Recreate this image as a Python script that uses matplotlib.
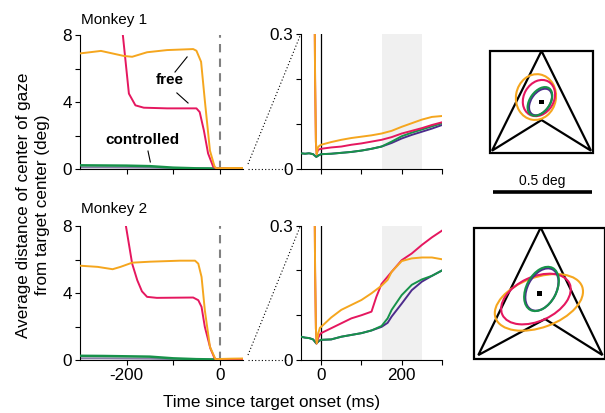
import matplotlib
matplotlib.use('Agg')
import matplotlib.pyplot as plt
from matplotlib.patches import Ellipse, Rectangle, Polygon
from matplotlib.lines import Line2D

plt.rcParams['font.family'] = ['Liberation Sans', 'DejaVu Sans']

# ---------------- colours ----------------
C_FREE_A = '#F5A61E'   # orange
C_FREE_B = '#E5175F'   # magenta
C_CTRL_A = '#17924A'   # green
C_CTRL_B = '#4D2C8C'   # purple

# ---------------- Monkey 1, long time scale (deg) ----------------
m1_orange_t = [-300, -255, -206, -188, -156, -113, -57, -50, -40, -32, -21, -11, -7, 0, 25, 50]
m1_orange_v = [6.9, 7.05, 6.75, 6.7, 6.97, 7.1, 7.16, 7.06, 6.4, 4.1, 1.1, 0.14, 0.04, 0.05, 0.06, 0.06]
m1_magenta_t = [-215, -208, -195, -181, -163, -113, -50, -43, -34, -25, -14, -7, 0, 25, 50]
m1_magenta_v = [9.5, 8.0, 4.5, 3.8, 3.66, 3.62, 3.62, 3.4, 2.3, 0.93, 0.14, 0.02, 0.04, 0.05, 0.05]
ctrl_long_t = [-300, -250, -200, -150, -100, -50, 0, 50]
m1_green_v = [0.22, 0.21, 0.2, 0.17, 0.08, 0.04, 0.03, 0.03]
m1_purple_v = [0.1, 0.1, 0.09, 0.08, 0.05, 0.03, 0.02, 0.02]

# ---------------- Monkey 2, long time scale (deg) ----------------
m2_orange_t = [-300, -262, -230, -213, -188, -149, -85, -53, -46, -39, -32, -21, -9, 0, 25, 50]
m2_orange_v = [5.63, 5.56, 5.42, 5.56, 5.81, 5.87, 5.93, 5.93, 5.75, 4.96, 2.98, 0.79, 0.04, 0.06, 0.08, 0.09]
m2_magenta_t = [-210, -202, -188, -177, -167, -156, -135, -57, -46, -39, -32, -20, -11, -4, 0, 25, 50]
m2_magenta_v = [9.5, 8.1, 5.75, 4.76, 4.1, 3.77, 3.71, 3.73, 3.57, 3.17, 1.98, 0.69, 0.1, 0.0, 0.04, 0.05, 0.05]
m2_green_v = [0.25, 0.24, 0.22, 0.2, 0.1, 0.05, 0.03, 0.03]
m2_purple_v = [0.1, 0.1, 0.09, 0.08, 0.05, 0.03, 0.02, 0.02]

# ---------------- Monkey 1, short time scale (deg) ----------------
free_short_t = [-17, -15, -13, -11, -8, -4, 0, 25, 50, 75, 100, 125, 150, 175, 200, 225, 250, 275, 300]
m1s_orange_v = [0.45, 0.2, 0.06, 0.033, 0.048, 0.052, 0.054, 0.06, 0.065, 0.069, 0.072, 0.075, 0.079, 0.085, 0.094, 0.102, 0.11, 0.116, 0.118]
m1s_magenta_v = [0.45, 0.2, 0.06, 0.033, 0.042, 0.044, 0.045, 0.048, 0.05, 0.054, 0.057, 0.061, 0.065, 0.071, 0.079, 0.085, 0.091, 0.098, 0.104]
ctrl_short_t = [-50, -40, -30, -20, -12, -5, 0, 25, 50, 75, 100, 125, 150, 175, 200, 225, 250, 275, 300]
m1s_green_v = [0.035, 0.034, 0.035, 0.033, 0.027, 0.031, 0.033, 0.034, 0.036, 0.038, 0.041, 0.045, 0.05, 0.061, 0.073, 0.081, 0.088, 0.095, 0.102]
m1s_purple_v = [0.035, 0.034, 0.035, 0.033, 0.027, 0.031, 0.033, 0.034, 0.036, 0.038, 0.041, 0.045, 0.05, 0.058, 0.068, 0.076, 0.083, 0.09, 0.098]

# ---------------- Monkey 2, short time scale (deg) ----------------
m2s_orange_t = [-17, -15, -13, -11, -7, -3, 0, 25, 50, 75, 100, 125, 150, 165, 175, 200, 225, 250, 275, 300]
m2s_orange_v = [0.45, 0.2, 0.07, 0.037, 0.06, 0.072, 0.074, 0.095, 0.112, 0.123, 0.134, 0.149, 0.166, 0.179, 0.197, 0.221, 0.227, 0.229, 0.229, 0.225]
m2s_magenta_t = [-17, -15, -13, -11, -7, -3, 0, 25, 50, 75, 100, 125, 137, 150, 175, 200, 225, 250, 275, 300]
m2s_magenta_v = [0.45, 0.2, 0.07, 0.037, 0.05, 0.057, 0.06, 0.071, 0.082, 0.093, 0.1, 0.108, 0.141, 0.17, 0.197, 0.223, 0.238, 0.257, 0.274, 0.289]
ctrl2_short_t = [-50, -40, -30, -20, -12, -5, 0, 25, 50, 75, 100, 125, 150, 165, 175, 200, 225, 250, 275, 300]
m2s_green_v = [0.052, 0.05, 0.049, 0.046, 0.037, 0.043, 0.045, 0.046, 0.052, 0.056, 0.06, 0.066, 0.076, 0.093, 0.112, 0.145, 0.168, 0.18, 0.188, 0.2]
m2s_purple_v = [0.052, 0.05, 0.049, 0.046, 0.037, 0.043, 0.045, 0.046, 0.052, 0.056, 0.06, 0.066, 0.074, 0.083, 0.097, 0.126, 0.156, 0.175, 0.188, 0.2]

# ---------------- Gaze distributions on target (deg) ----------------
# (colour, dx, dy, major, minor, angle)
m1_ell_col = [C_FREE_A, C_FREE_B, C_CTRL_B, C_CTRL_A]
m1_ell_dx = [-0.028, -0.013, -0.005, -0.008]
m1_ell_dy = [0.025, 0.02, 0.0, 0.003]
m1_ell_major = [0.232, 0.192, 0.15, 0.162]
m1_ell_minor = [0.202, 0.152, 0.095, 0.101]
m1_ell_angle = [80, 60, 55, 55]

m2_ell_col = [C_FREE_A, C_FREE_B, C_CTRL_B, C_CTRL_A]
m2_ell_dx = [-0.003, -0.018, 0.012, 0.01]
m2_ell_dy = [-0.045, -0.028, 0.02, 0.023]
m2_ell_major = [0.465, 0.374, 0.23, 0.24]
m2_ell_minor = [0.253, 0.222, 0.145, 0.152]
m2_ell_angle = [20, 25, 62, 62]

W, H = 605, 413
fig = plt.figure(figsize=(6.05, 4.13), dpi=100)


def box(x0, y0, x1, y1):
    return [x0 / W, 1 - y1 / H, (x1 - x0) / W, (y1 - y0) / H]


def style(ax):
    for s in ['top', 'right']:
        ax.spines[s].set_visible(False)
    for s in ['left', 'bottom']:
        ax.spines[s].set_linewidth(0.8)
    ax.tick_params(direction='out', length=3.5, width=0.8, labelsize=12.3, pad=2)


LW = 1.4

# ---- left panels ----
long_sets = [
    (box(80, 35, 243, 169), m1_orange_t, m1_orange_v, m1_magenta_t, m1_magenta_v, m1_green_v, m1_purple_v, False),
    (box(80, 226, 243, 360), m2_orange_t, m2_orange_v, m2_magenta_t, m2_magenta_v, m2_green_v, m2_purple_v, True),
]
left_axes = []
for rect, ot, ov, mt, mv, gv, pv, lab in long_sets:
    ax = fig.add_axes(rect)
    style(ax)
    ax.axvline(0, color='#808080', ls=(0, (4, 3)), lw=1.5, zorder=1)
    ax.plot(ctrl_long_t, pv, color='#8a7fa8', lw=LW, zorder=2)
    ax.plot(ctrl_long_t, gv, color=C_CTRL_A, lw=LW + 0.4, zorder=3)
    ax.plot(mt, mv, color=C_FREE_B, lw=LW, zorder=4)
    ax.plot(ot, ov, color=C_FREE_A, lw=LW, zorder=5)
    ax.set_xlim(-300, 50)
    ax.set_ylim(0, 8)
    ax.set_yticks([0, 2, 4, 6, 8])
    ax.set_yticklabels(['0', '', '4', '', '8'])
    ax.set_xticks([-200, -100, 0])
    if lab:
        ax.set_xticklabels(['-200', '', '0'])
    else:
        ax.set_xticklabels([])
    left_axes.append(ax)

# annotations (top left)
axa = left_axes[0]
axa.text(-107, 5.3, 'free', fontsize=11, fontweight='bold', ha='center', va='center')
axa.plot([-96, -70], [5.79, 6.69], color='k', lw=0.8)
axa.plot([-92, -68], [4.54, 3.94], color='k', lw=0.8)
axa.text(-165, 1.73, 'controlled', fontsize=11, fontweight='bold', ha='center', va='center')
axa.plot([-154, -149], [1.07, 0.42], color='k', lw=0.8)

# ---- middle panels ----
short_sets = [
    (box(301, 34.3, 442, 169), free_short_t, m1s_orange_v, free_short_t, m1s_magenta_v,
     ctrl_short_t, m1s_green_v, m1s_purple_v, False),
    (box(301, 225.7, 442, 360), m2s_orange_t, m2s_orange_v, m2s_magenta_t, m2s_magenta_v,
     ctrl2_short_t, m2s_green_v, m2s_purple_v, True),
]
for rect, ot, ov, mt, mv, ct, gv, pv, lab in short_sets:
    ax = fig.add_axes(rect)
    style(ax)
    ax.axvspan(150, 250, color='#f0f0f0', lw=0, zorder=0)
    ax.axvline(0, color='k', lw=0.9, zorder=1)
    ax.plot(ct, pv, color=C_CTRL_B, lw=LW, zorder=2)
    ax.plot(ct, gv, color=C_CTRL_A, lw=LW, zorder=3)
    ax.plot(mt, mv, color=C_FREE_B, lw=LW, zorder=4)
    ax.plot(ot, ov, color=C_FREE_A, lw=LW, zorder=5)
    ax.set_xlim(-50, 300)
    ax.set_ylim(0, 0.3)
    ax.set_yticks([0, 0.1, 0.2, 0.3])
    ax.set_yticklabels(['0', '', '', '0.3'])
    ax.set_xticks([0, 100, 200, 300])
    if lab:
        ax.set_xticklabels(['0', '', '200', ''])
    else:
        ax.set_xticklabels([])

# ---- dotted connectors ----
def fline(xs, ys, **kw):
    fig.add_artist(Line2D([x / W for x in xs], [1 - y / H for y in ys],
                          transform=fig.transFigure, **kw))

dot = dict(color='k', lw=0.8, ls=(0, (1, 2)))
fline([248, 286], [169, 169], **dot)
fline([248, 300], [164, 36], **dot)
fline([248, 286], [360, 360], **dot)
fline([248, 300], [355, 227], **dot)

# ---- texts ----
fig.text(81 / W, 1 - 20 / H, 'Monkey 1', fontsize=11, va='center', ha='left')
fig.text(81 / W, 1 - 209 / H, 'Monkey 2', fontsize=11, va='center', ha='left')
fig.text(33 / W, 1 - 205 / H, 'Average distance of center of gaze\nfrom target center (deg)',
         rotation=90, ha='center', va='center', fontsize=12.3, linespacing=1.35,
         multialignment='center')
fig.text(272 / W, 1 - 402 / H, 'Time since target onset (ms)', ha='center', va='center', fontsize=12.3)

# ---- right: target diagrams ----
PX = 198.0  # pixels per degree
axR = fig.add_axes(box(455, 30, 605, 370))
axR.set_xlim(0, 150 / PX)
axR.set_ylim(0, 340 / PX)
axR.axis('off')


def p2d(px, py):
    return ((px - 455) / PX, (370 - py) / PX)


def target(cx, cy, half, apex, corner, notch, cols, dxs, dys, majs, mins, angs):
    axR.add_patch(Rectangle((cx - half, cy - half), 2 * half, 2 * half, fill=False,
                            ec='k', lw=1.6, clip_on=False))
    pts = [(cx + apex[0], cy + apex[1]), (cx + corner[1], cy + corner[2]),
           (cx + notch[0], cy + notch[1]), (cx + corner[0], cy + corner[2])]
    axR.add_patch(Polygon(pts, closed=True, fill=False, ec='k', lw=1.6, joinstyle='miter', clip_on=False))
    for c, dx, dy, a, b, ang in zip(cols, dxs, dys, majs, mins, angs):
        axR.add_patch(Ellipse((cx + dx, cy + dy), a, b, angle=ang, fill=False, ec=c, lw=1.5))
    axR.add_patch(Rectangle((cx - 0.0125, cy - 0.0125), 0.025, 0.025, color='k', lw=0))


c1 = p2d(541.5, 102)
target(c1[0], c1[1], 0.258, (0.0, 0.258), (-0.25, 0.25, -0.246), (0.0, -0.091),
       m1_ell_col, m1_ell_dx, m1_ell_dy, m1_ell_major, m1_ell_minor, m1_ell_angle)
c2 = p2d(539.5, 293.5)
target(c2[0], c2[1], 0.333, (0.006, 0.333), (-0.309, 0.318, -0.311), (0.028, -0.129),
       m2_ell_col, m2_ell_dx, m2_ell_dy, m2_ell_major, m2_ell_minor, m2_ell_angle)

sb0 = p2d(493, 192)
axR.plot([sb0[0], sb0[0] + 0.5], [sb0[1], sb0[1]], color='k', lw=2.6, solid_capstyle='butt')
axR.text(sb0[0] + 0.25, p2d(0, 181)[1], '0.5 deg', ha='center', va='center', fontsize=10)

fig.savefig('out.png', dpi=100)
